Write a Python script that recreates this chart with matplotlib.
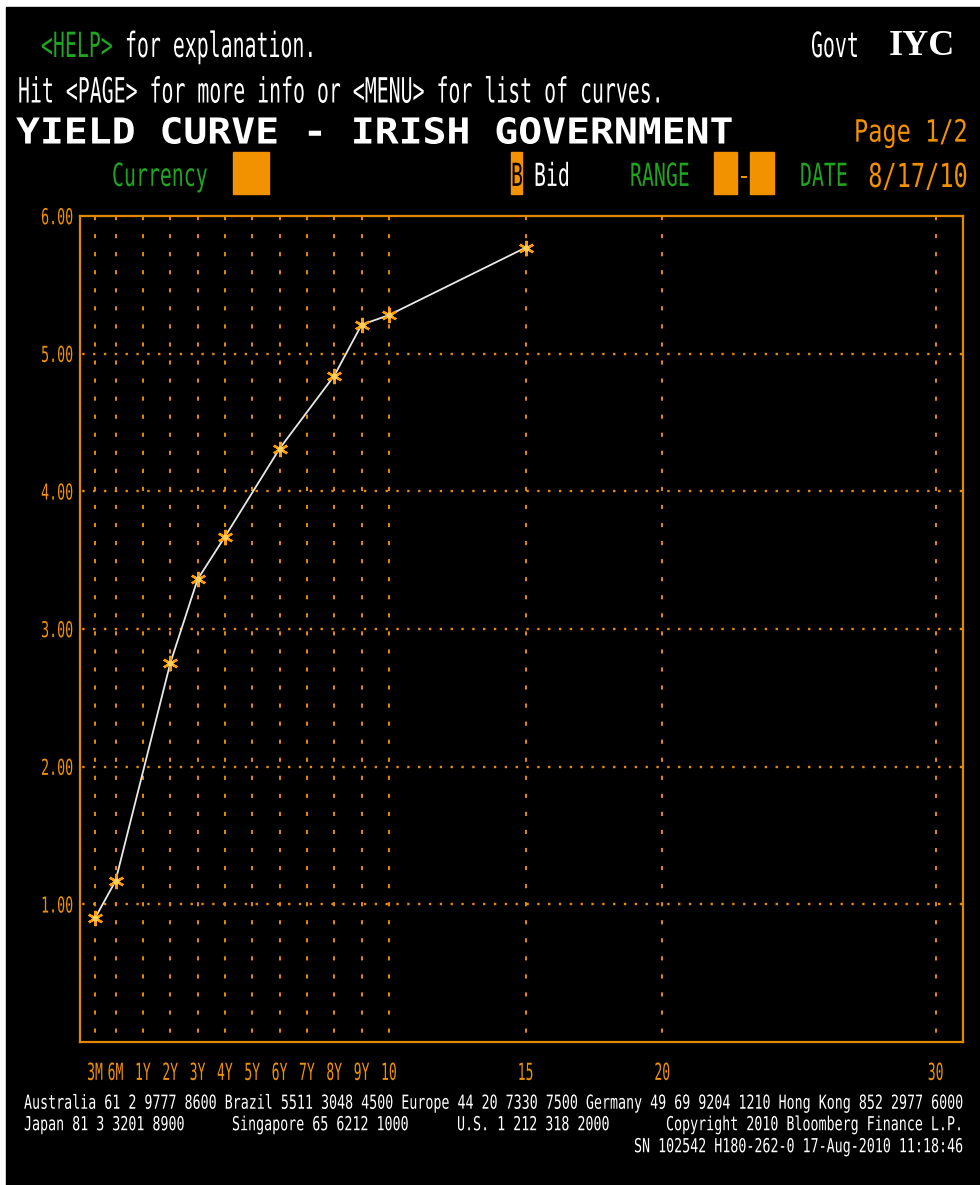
import matplotlib
matplotlib.use('Agg')
import matplotlib.pyplot as plt
import matplotlib.patheffects as pe
from matplotlib.transforms import Affine2D
from matplotlib.patches import Rectangle

# Irish government yield curve, Bloomberg IYC screen, 17-Aug-2010 (bid)
tenor_labels = ['3M', '6M', '1Y', '2Y', '3Y', '4Y', '5Y', '6Y', '7Y', '8Y', '9Y', '10', '15', '20', '30']
# x coordinate of each tenor on the screen axis (years; short end stretched like on the terminal)
tenor_x = [-0.75, 0, 1, 2, 3, 4, 5, 6, 7, 8, 9, 10, 15, 20, 30]

curve_tenors = ['3M', '6M', '2Y', '3Y', '4Y', '6Y', '8Y', '9Y', '10', '15']
bid_yield = [0.90, 1.17, 2.75, 3.36, 3.67, 4.31, 4.84, 5.21, 5.28, 5.77]

yield_ticks = [1, 2, 3, 4, 5, 6]

W, H = 980, 1185
ORANGE = '#F39200'
GRID = '#E88C00'
GREEN = '#1FA51F'
MONO = 'DejaVu Sans Mono'

plt.rcParams['lines.scale_dashes'] = False


class Stretch(pe.AbstractPathEffect):
    """Stretch glyphs vertically (terminal font is tall and narrow)."""
    def __init__(self, sy, mid=37):
        super().__init__()
        self.sy = sy
        self.mid = mid

    def draw_path(self, renderer, gc, tpath, affine, rgbFace=None):
        t = Affine2D().translate(0, -self.mid).scale(1, self.sy).translate(0, self.mid) + affine
        renderer.draw_path(gc, tpath, t, rgbFace)


fig = plt.figure(figsize=(W / 100, H / 100), dpi=100, facecolor='white')
screen = Affine2D().scale(1 / W, -1 / H).translate(0, 1) + fig.transFigure

# black terminal background
fig.add_artist(Rectangle((6, 7), W - 6, H - 7, transform=screen, color='black', zorder=-10))


def txt(x, y, s, color='white', size=14.3, sy=1.75, ha='left', **kw):
    t = fig.text(x, y, s, transform=screen, color=color, fontsize=size, ha=ha,
                 va='center_baseline', family=MONO, zorder=3, **kw)
    t.set_path_effects([Stretch(sy)])
    return t


def box(x0, x1, y0=152, y1=194):
    fig.add_artist(Rectangle((x0, y0), x1 - x0, y1 - y0, transform=screen, color=ORANGE, zorder=2))


# header
txt(41, 44, '<HELP>', color=GREEN)
txt(125, 44, 'for explanation.')
txt(811, 44, 'Govt')
fig.text(955, 55, 'IYC', transform=screen, color='white', fontsize=26, fontweight='bold',
         family='Liberation Serif', ha='right', va='baseline')
txt(18, 89.5, 'Hit <PAGE> for more info or <MENU> for list of curves.')
txt(16, 129.5, 'YIELD CURVE - IRISH GOVERNMENT', size=28.6, sy=0.9, fontweight='bold')
txt(968, 129.5, 'Page 1/2', color=ORANGE, size=17, sy=1.3, ha='right')

txt(112, 174, 'Currency', color=GREEN, sy=1.6)
box(233, 269)
box(511, 522)
txt(511, 174, 'B', color='black', sy=1.6)
txt(534, 174, 'Bid', sy=1.6)
txt(630, 174, 'RANGE', color=GREEN, sy=1.6)
box(714, 737)
txt(744, 174, '-', color=ORANGE, sy=1.6, ha='center')
box(750, 774)
txt(800, 174, 'DATE', color=GREEN, sy=1.6)
txt(968, 174, '8/17/10', color=ORANGE, size=17, sy=1.4, ha='right')

# chart
ax = fig.add_axes([80 / W, 1 - 1042 / H, 883 / W, 826 / H])
ax.set_facecolor('black')
ax.set_xlim(-1.3, 31)
ax.set_ylim(0, 6)

for x in tenor_x:
    ax.plot([x, x], [6, 0], color=GRID, lw=1.4, dashes=(3.0, 10.0), zorder=1)
for y in yield_ticks[:-1]:
    ax.plot([-1.3, 31], [y, y], color=GRID, lw=1.7, linestyle=(6.2, (1.7, 6.1)), zorder=1)

curve_x = [tenor_x[tenor_labels.index(t)] for t in curve_tenors]
ax.plot(curve_x, bid_yield, color='#E8E8E8', lw=1.3, zorder=3)
ax.plot(curve_x, bid_yield, linestyle='none', marker=(6, 2, 0), ms=11, mew=1.7,
        color='#FF9A00', zorder=4)
ax.plot(curve_x, bid_yield, linestyle='none', marker='o', ms=3.5, color='#FFD060', zorder=5)

for s in ax.spines.values():
    s.set_color('#E08A00')
    s.set_linewidth(1.6)

ax.set_xticks(tenor_x, tenor_labels)
ax.set_yticks(yield_ticks, [f'{v:.2f}' for v in yield_ticks])
ax.tick_params(axis='x', length=0, pad=20.9, colors=ORANGE, labelsize=9.4)
ax.tick_params(axis='y', length=0, pad=5, colors=ORANGE, labelsize=9.6)
for lab in ax.get_xticklabels():
    lab.set_family(MONO)
    lab.set_verticalalignment('center_baseline')
    lab.set_path_effects([Stretch(1.8)])
for lab in ax.get_yticklabels():
    lab.set_family(MONO)
    lab.set_path_effects([Stretch(1.65)])

# footer
foot = 9.6
txt(24, 1101.5, 'Australia 61 2 9777 8600 Brazil 5511 3048 4500 Europe 44 20 7330 7500 '
    'Germany 49 69 9204 1210 Hong Kong 852 2977 6000', size=foot, sy=1.45)
txt(24, 1123, 'Japan 81 3 3201 8900', size=foot, sy=1.45)
txt(232, 1123, 'Singapore 65 6212 1000', size=foot, sy=1.45)
txt(457, 1123, 'U.S. 1 212 318 2000', size=foot, sy=1.45)
txt(962, 1123, 'Copyright 2010 Bloomberg Finance L.P.', size=foot, sy=1.45, ha='right')
txt(962, 1145, 'SN 102542 H180-262-0 17-Aug-2010 11:18:46', size=foot, sy=1.45, ha='right')

fig.savefig('out.png', dpi=100, facecolor='white')
